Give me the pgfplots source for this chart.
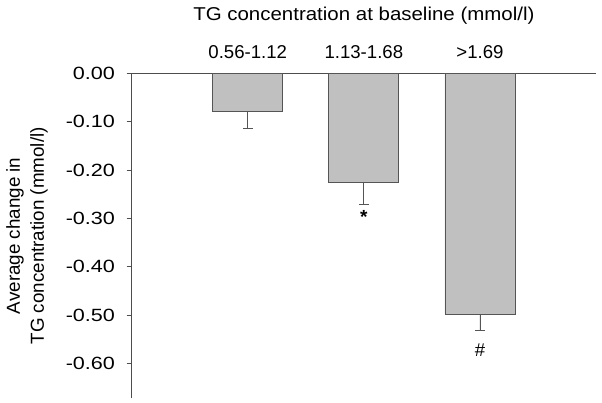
\documentclass[border=0pt]{standalone}
\usepackage{pgfplots}
\pgfplotsset{compat=1.18}
\usepackage{fontspec}
\setmainfont{Liberation Sans}
\newfontfamily\widefont[FakeStretch=1.22]{Liberation Sans}
\newfontfamily\titlefont[FakeStretch=1.1]{Liberation Sans}
\definecolor{barfill}{HTML}{C0C0C0}
\definecolor{edge}{HTML}{555555}
\definecolor{axisgray}{HTML}{4D4D4D}
\begin{document}
\begin{tikzpicture}
\begin{axis}[
  scale only axis, width=464.3pt, height=325pt,
  at={(0,0)}, anchor=south west,
  xmin=-1, xmax=3, ymin=-0.672, ymax=0,
  axis x line*=top, axis y line*=left,
  axis line style={axisgray, line width=1pt},
  major tick length=5pt,
  xtick={0,1,2}, xticklabels={0.56-1.12, 1.13-1.68, >1.69},
  xtick align=inside,
  x tick style={draw=none},
  xticklabel style={font=\fontsize{18.6}{20}\selectfont, anchor=base, yshift=15pt},
  ytick={0,-0.1,-0.2,-0.3,-0.4,-0.5,-0.6},
  ytick align=outside,
  y tick style={axisgray, line width=1pt},
  yticklabel style={/pgf/number format/.cd, fixed, fixed zerofill, precision=2, assume math mode=true, /tikz/.cd,
     font=\widefont\fontsize{17.7}{20}\selectfont, anchor=east, inner sep=0pt, xshift=-11.5pt},
  xlabel={TG concentration at baseline (mmol/l)},
  xlabel style={font=\titlefont\fontsize{18.6}{20}\selectfont, at={([yshift=52.6pt]axis description cs:0.5,1)}, anchor=base},
  ylabel={Average change in\\TG concentration (mmol/l)},
  ylabel style={align=center, font=\fontsize{18.8}{24}\selectfont, at={([xshift=-104.7pt]axis description cs:0,0.5)}, anchor=center},
  clip=false,
]
\addplot[ybar, bar width=70pt, fill=barfill, draw=edge, line width=0.8pt,
  error bars/.cd, y dir=minus, y explicit,
  error bar style={edge, line width=0.8pt},
  error mark options={rotate=90, mark size=5pt, edge, line width=0.8pt}]
coordinates {(0,-0.0795) +- (0,0.035) (1,-0.2265) +- (0,0.045) (2,-0.498) +- (0,0.033)};
\addplot[draw=none, mark=none, nodes near coords, point meta=explicit symbolic,
  nodes near coords style={anchor=center, font=\bfseries\fontsize{19}{20}\selectfont, text=black}]
coordinates {(1,-0.297) [*]};
\addplot[draw=none, mark=none, nodes near coords, point meta=explicit symbolic,
  nodes near coords style={anchor=center, font=\fontsize{18.5}{20}\selectfont, text=black}]
coordinates {(2,-0.572) [\#]};
\end{axis}
\pgfresetboundingbox
\path[use as bounding box] (-131.7pt,-4.7pt) rectangle (470.3pt,398.3pt);
\end{tikzpicture}
\end{document}
